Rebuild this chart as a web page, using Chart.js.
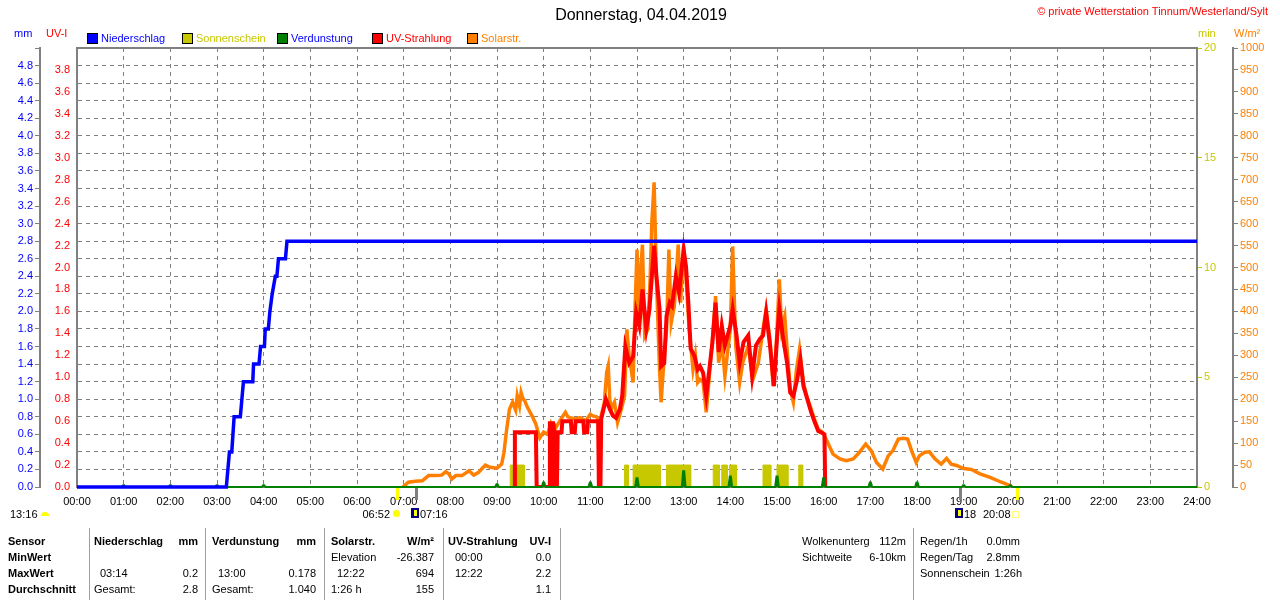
<!DOCTYPE html>
<html lang="de">
<head>
<meta charset="UTF-8">
<title>Wetterstation Tinnum - 04.04.2019</title>
<script src="https://cdn.jsdelivr.net/npm/chart.js"></script>
<style>
    body{
        margin: 0;
        width: 1280px;
        height: 600px;
        position: relative;
        overflow: hidden;
        background: #fff;
        font-family: "Liberation Sans", Arial, sans-serif;
        font-size: 11px;
        color: #000;
    }
    #grafik{
        position: absolute;
        left: 0;
        top: 0;
    }
    .t{
        position: absolute;
        white-space: nowrap;
        line-height: 13px;
    }
    .b{ font-weight: bold; }
    .r{ text-align: right; }
    .box{
        position: absolute;
        width: 9px;
        height: 9px;
        border: 1px solid #000;
        box-sizing: content-box;
    }
    .linie{
        position: absolute;
        top: 528px;
        width: 1px;
        height: 72px;
        background: #a0a0a0;
    }
</style>
</head>
<body>
    <canvas id="grafik" width="1280" height="600"></canvas>

    <div class="t" style="left:0;width:1282px;text-align:center;top:6px;font-size:16px;line-height:18px">Donnerstag, 04.04.2019</div>
    <div class="t" style="right:12px;top:5px;color:#ff0000">© private Wetterstation Tinnum/Westerland/Sylt</div>

    <div class="t" style="left:14px;top:27px;color:#0000ff">mm</div>
    <div class="t" style="left:46px;top:27px;color:#ff0000">UV-I</div>
    <div class="t" style="left:1198px;top:27px;color:#c8c800">min</div>
    <div class="t" style="left:1234px;top:27px;color:#ff8000">W/m²</div>

    <div class="box" style="left:87px;top:33px;background:#0000ff"></div>
    <div class="t" style="left:101px;top:32px;color:#0000ff">Niederschlag</div>
    <div class="box" style="left:182px;top:33px;background:#c8c800"></div>
    <div class="t" style="left:196px;top:32px;color:#c8c800">Sonnenschein</div>
    <div class="box" style="left:277px;top:33px;background:#008000"></div>
    <div class="t" style="left:291px;top:32px;color:#0000ff">Verdunstung</div>
    <div class="box" style="left:372px;top:33px;background:#ff0000"></div>
    <div class="t" style="left:386px;top:32px;color:#ff0000">UV-Strahlung</div>
    <div class="box" style="left:467px;top:33px;background:#ff8000"></div>
    <div class="t" style="left:481px;top:32px;color:#ff8000">Solarstr.</div>

    <!-- Sonne / Mond unter der Zeitachse -->
    <div class="t" style="left:10px;top:508px">13:16</div>
    <div style="position:absolute;left:41px;top:512px;width:8px;height:4px;background:#ffff00;border-radius:4px 4px 0 0"></div>
    <div class="t r" style="right:890px;top:508px">06:52</div>
    <div style="position:absolute;left:393px;top:510px;width:7px;height:7px;background:#ffff00;border-radius:50%"></div>
    <div style="position:absolute;left:411px;top:508px;width:8px;height:10px;background:#000080"></div>
    <div style="position:absolute;left:414px;top:510px;width:3px;height:6px;background:#ffff00"></div>
    <div class="t" style="left:420px;top:508px">07:16</div>
    <div style="position:absolute;left:955px;top:508px;width:8px;height:10px;background:#000080"></div>
    <div style="position:absolute;left:958px;top:510px;width:3px;height:6px;background:#ffff00"></div>
    <div class="t" style="left:964px;top:508px">18</div>
    <div class="t" style="left:983px;top:508px">20:08</div>
    <div style="position:absolute;left:1012px;top:511px;width:5px;height:5px;border:1px solid #ffff80"></div>

    <!-- Tabelle -->
    <div class="linie" style="left:89px"></div>
    <div class="linie" style="left:205px"></div>
    <div class="linie" style="left:324px"></div>
    <div class="linie" style="left:443px"></div>
    <div class="linie" style="left:560px"></div>
    <div class="linie" style="left:913px"></div>

    <div class="t b" style="left:8px;top:535px">Sensor</div>
    <div class="t b" style="left:8px;top:551px">MinWert</div>
    <div class="t b" style="left:8px;top:567px">MaxWert</div>
    <div class="t b" style="left:8px;top:583px">Durchschnitt</div>

    <div class="t b" style="left:94px;top:535px">Niederschlag</div>
    <div class="t b r" style="right:1082px;top:535px">mm</div>
    <div class="t" style="left:100px;top:567px">03:14</div>
    <div class="t r" style="right:1082px;top:567px">0.2</div>
    <div class="t" style="left:94px;top:583px">Gesamt:</div>
    <div class="t r" style="right:1082px;top:583px">2.8</div>

    <div class="t b" style="left:212px;top:535px">Verdunstung</div>
    <div class="t b r" style="right:964px;top:535px">mm</div>
    <div class="t" style="left:218px;top:567px">13:00</div>
    <div class="t r" style="right:964px;top:567px">0.178</div>
    <div class="t" style="left:212px;top:583px">Gesamt:</div>
    <div class="t r" style="right:964px;top:583px">1.040</div>

    <div class="t b" style="left:331px;top:535px">Solarstr.</div>
    <div class="t b r" style="right:846px;top:535px">W/m²</div>
    <div class="t" style="left:331px;top:551px">Elevation</div>
    <div class="t r" style="right:846px;top:551px">-26.387</div>
    <div class="t" style="left:337px;top:567px">12:22</div>
    <div class="t r" style="right:846px;top:567px">694</div>
    <div class="t" style="left:331px;top:583px">1:26 h</div>
    <div class="t r" style="right:846px;top:583px">155</div>

    <div class="t b" style="left:448px;top:535px">UV-Strahlung</div>
    <div class="t b r" style="right:729px;top:535px">UV-I</div>
    <div class="t" style="left:455px;top:551px">00:00</div>
    <div class="t r" style="right:729px;top:551px">0.0</div>
    <div class="t" style="left:455px;top:567px">12:22</div>
    <div class="t r" style="right:729px;top:567px">2.2</div>
    <div class="t r" style="right:729px;top:583px">1.1</div>

    <div class="t" style="left:802px;top:535px">Wolkenunterg</div>
    <div class="t r" style="right:374px;top:535px">112m</div>
    <div class="t" style="left:802px;top:551px">Sichtweite</div>
    <div class="t r" style="right:374px;top:551px">6-10km</div>

    <div class="t" style="left:920px;top:535px">Regen/1h</div>
    <div class="t r" style="right:260px;top:535px">0.0mm</div>
    <div class="t" style="left:920px;top:551px">Regen/Tag</div>
    <div class="t r" style="right:260px;top:551px">2.8mm</div>
    <div class="t" style="left:920px;top:567px">Sonnenschein</div>
    <div class="t r" style="right:258px;top:567px">1:26h</div>

<script>
    // Niederschlag (Summe, mm)
    var regenZeit = ['00:00','03:12','03:14','03:16','03:19','03:22','03:30','03:32','03:34','03:46','03:47','03:54',
                     '03:56','04:01','04:02','04:06','04:08','04:11','04:15','04:17','04:19','04:28','04:30','24:00'];
    var regenWert = [0,0,0.2,0.4,0.4,0.8,0.8,1.0,1.2,1.2,1.4,1.4,
                     1.6,1.6,1.8,1.8,2.0,2.2,2.4,2.4,2.6,2.6,2.8,2.8];

    // Sonnenschein (min)
    var sonneVon  = ['09:17','11:44','11:55','12:38','13:38','13:49','13:59','14:42','15:00','15:28'];
    var sonneBis  = ['09:35','11:49','12:30','13:09','13:46','13:56','14:08','14:52','15:14','15:33'];
    var sonneWert = [1,1,1,1,1,1,1,1,1,1];

    // Verdunstung pro Stunde (mm)
    var verdStunde = [1,2,3,4,9,10,11,12,13,14,15,16,17,18,19,20];
    var verdWert   = [0.02,0.02,0.02,0.02,0.03,0.05,0.05,0.10,0.178,0.12,0.12,0.10,0.05,0.05,0.02,0.02];

    // UV-Strahlung (UV-I)
    var uvZeit = ['09:22','09:23','09:50','09:51','10:07','10:08','10:12','10:13','10:17','10:18','10:23','10:24',
                  '10:35','10:36','10:40','10:41','10:51','10:52','10:56','10:57','11:10','11:11','11:13','11:14',
                  '11:20','11:25','11:29','11:33','11:38','11:41','11:45','11:50','11:55','11:59','12:03','12:07',
                  '12:12','12:16','12:22','12:25','12:29','12:31','12:35','12:38','12:42','12:45','12:50','12:54',
                  '13:00','13:03','13:06','13:09','13:14','13:18','13:21','13:25','13:29','13:33','13:37','13:41',
                  '13:45','13:49','13:53','14:00','14:03','14:08','14:12','14:17','14:23','14:28','14:33','14:38',
                  '14:42','14:46','14:51','14:56','15:00','15:03','15:08','15:13','15:17','15:21','15:26','15:30',
                  '15:34','15:39','15:44','15:48','15:53','15:56','16:01','16:02'];
    var uvWert = [0,0.50,0.50,0,0,0.58,0.58,0,0,0.50,0.50,0.60,
                  0.60,0.50,0.50,0.60,0.60,0.50,0.50,0.60,0.60,0,0,0.62,
                  0.80,0.71,0.65,0.63,0.71,0.83,1.28,1.13,1.19,1.59,1.47,1.80,
                  1.44,1.62,2.20,1.92,1.62,1.10,1.13,1.56,1.68,1.65,1.92,1.77,
                  2.16,2.01,1.68,1.26,1.19,1.07,1.10,1.04,0.83,1.07,1.32,1.68,
                  1.23,1.47,1.29,1.47,1.62,1.38,1.13,1.32,1.38,1.01,1.29,1.35,
                  1.38,1.59,1.29,0.92,1.35,1.62,1.35,1.13,0.86,0.83,0.98,1.16,
                  0.92,0.80,0.68,0.60,0.51,0.50,0.48,0];

    // Solarstrahlung (W/m²)
    var solarZeit = ['06:59','07:06','07:15','07:24','07:32','07:41','07:49','07:54','07:58','08:02','08:07','08:15',
                     '08:24','08:30','08:36','08:45','08:51','09:00','09:06','09:09','09:12','09:16','09:20','09:24',
                     '09:26','09:29','09:31','09:33','09:36','09:39','09:45','09:50','09:55','10:00','10:05','10:09',
                     '10:12','10:15','10:21','10:26','10:28','10:31','10:34','10:41','10:47','10:54','11:00','11:03',
                     '11:08','11:12','11:15','11:18','11:21','11:23','11:25','11:27','11:31','11:35','11:40','11:44',
                     '11:47','11:50','11:55','11:57','12:00','12:03','12:05','12:07','12:10','12:14','12:17','12:19',
                     '12:22','12:25','12:29','12:31','12:35','12:38','12:41','12:44','12:48','12:53','12:56','13:00',
                     '13:04','13:07','13:12','13:15','13:18','13:21','13:25','13:29','13:33','13:37','13:41','13:45',
                     '13:49','13:53','13:56','14:00','14:03','14:07','14:12','14:16','14:23','14:29','14:36','14:42',
                     '14:46','14:51','14:55','14:59','15:03','15:06','15:10','15:13','15:17','15:21','15:25','15:29',
                     '15:34','15:38','15:44','15:48','15:53','15:59','16:05','16:12','16:21','16:29','16:38','16:46',
                     '16:54','17:01','17:08','17:16','17:23','17:29','17:36','17:42','17:48','17:53','17:59','18:03',
                     '18:10','18:16','18:23','18:31','18:38','18:44','18:51','19:00','19:10','19:21','19:34','19:47',
                     '20:00','20:02'];
    var solarWert = [0,11,13,14,26,26,27,35,30,18,26,26,
                     37,27,33,50,45,43,52,79,125,177,193,175,
                     208,185,215,203,195,182,162,143,112,125,120,143,
                     125,133,151,165,170,160,158,155,158,151,166,162,
                     160,147,170,193,261,276,200,178,193,147,178,208,
                     359,298,238,378,541,382,500,552,344,359,480,600,
                     694,473,268,193,298,359,541,374,412,552,420,548,
                     450,359,268,300,238,245,238,170,252,336,435,283,
                     330,252,300,359,548,321,238,283,321,245,283,359,
                     405,336,230,321,473,359,389,314,223,193,268,314,
                     238,208,177,155,132,124,102,75,64,60,64,79,
                     98,83,56,41,71,83,109,111,109,83,56,71,
                     79,80,64,52,65,52,49,42,40,30,22,12,
                     3,0];

    // Sonnenauf-/untergang, Mondauf-/untergang
    var astroZeit  = ['06:52','07:16','18:55','20:08'];
    var astroFarbe = ['#ffff00','#808080','#808080','#ffff00'];

    function stunden(s){
        var p = s.split(':');
        return Number(p[0]) + Number(p[1]) / 60;
    }
    function punkte(zeiten, werte){
        return zeiten.map(function(z, i){ return {x: stunden(z), y: werte[i]}; });
    }

    var sonnePunkte = [{x: 0, y: 0}];
    for(var i = 0; i < sonneVon.length; i++){
        var a = stunden(sonneVon[i]), b = stunden(sonneBis[i]);
        sonnePunkte.push({x: a, y: 0}, {x: a, y: sonneWert[i]}, {x: b, y: sonneWert[i]}, {x: b, y: 0});
    }
    sonnePunkte.push({x: 24, y: 0});

    var verdPunkte = [{x: 0, y: 0}];
    for(var i = 0; i < verdStunde.length; i++){
        var s = verdStunde[i];
        verdPunkte.push({x: s - 0.04, y: 0}, {x: s - 0.012, y: verdWert[i]}, {x: s + 0.012, y: verdWert[i]}, {x: s + 0.04, y: 0});
    }
    verdPunkte.push({x: 24, y: 0});

    // Rahmen um die Zeichenfläche und Markierungen unter der Zeitachse
    var rahmen = {
        id: 'rahmen',
        beforeDatasetsDraw: function(chart){
            var ctx = chart.ctx, a = chart.chartArea;
            ctx.save();
            ctx.strokeStyle = '#808080';
            ctx.lineWidth = 2;
            ctx.strokeRect(a.left, a.top, a.right - a.left, a.bottom - a.top);
            ctx.restore();
        },
        afterDraw: function(chart){
            var ctx = chart.ctx, x = chart.scales.x, y0 = chart.chartArea.bottom;
            ctx.save();
            for(var i = 0; i < astroZeit.length; i++){
                var px = x.getPixelForValue(stunden(astroZeit[i]));
                ctx.fillStyle = astroFarbe[i];
                ctx.fillRect(Math.round(px) - 1, y0 + 1, 3, 12);
            }
            ctx.restore();
        }
    };

    var schrift = {family: '"Liberation Sans", Arial, sans-serif', size: 11};

    new Chart(document.getElementById('grafik'), {
        type: 'line',
        data: {
            datasets: [{
                label: 'Niederschlag',
                data: punkte(regenZeit, regenWert),
                yAxisID: 'yMM',
                borderColor: '#0000ff',
                borderWidth: 3.5,
                clip: 3,
                order: 0
            },
            {
                label: 'Verdunstung',
                data: verdPunkte,
                yAxisID: 'yMM',
                borderColor: '#008000',
                backgroundColor: '#008000',
                borderWidth: 2,
                fill: 'origin',
                clip: 3,
                order: 1
            },
            {
                label: 'UV-Strahlung',
                data: punkte(uvZeit, uvWert),
                yAxisID: 'yUV',
                borderColor: '#ff0000',
                borderWidth: 4,
                order: 2
            },
            {
                label: 'Solarstr.',
                data: punkte(solarZeit, solarWert),
                yAxisID: 'yW',
                borderColor: '#ff8000',
                borderWidth: 3.5,
                order: 3
            },
            {
                label: 'Sonnenschein',
                data: sonnePunkte,
                yAxisID: 'yMin',
                borderColor: '#c8c800',
                backgroundColor: '#c8c800',
                borderWidth: 1,
                fill: 'origin',
                order: 4
            }]
        },
        options: {
            responsive: false,
            animation: false,
            layout: {padding: {top: 48, bottom: 83, left: 0, right: 0}},
            elements: {point: {radius: 0, hoverRadius: 0}, line: {tension: 0}},
            plugins: {
                legend: {display: false},
                title: {display: false},
                tooltip: {enabled: false}
            },
            scales: {
                x: {
                    type: 'linear', min: 0, max: 24,
                    ticks: {stepSize: 1, autoSkip: false, maxRotation: 0, color: '#000', font: schrift, padding: 8,
                            callback: function(v){ return String(v).padStart(2, '0') + ':00'; }},
                    grid: {color: '#808080', drawTicks: false},
                    border: {display: false, dash: [4, 4]},
                    afterFit: function(s){ s.height = 30; }
                },
                yMM: {
                    position: 'left', weight: 2, min: 0, max: 5,
                    ticks: {stepSize: 0.2, autoSkip: false, color: '#0000ff', font: schrift, padding: 2,
                            callback: function(v){ return v > 4.99 ? '' : v.toFixed(1); }},
                    grid: {color: '#808080', tickLength: 5, tickColor: '#808080'},
                    border: {color: '#808080', width: 2, dash: [4, 4]},
                    afterFit: function(s){ s.width = 40; }
                },
                yUV: {
                    position: 'left', weight: 1, min: 0, max: 4,
                    ticks: {stepSize: 0.2, autoSkip: false, color: '#ff0000', font: schrift, padding: 7,
                            callback: function(v){ return v > 3.99 ? '' : v.toFixed(1); }},
                    grid: {drawOnChartArea: false, drawTicks: false},
                    border: {display: false},
                    afterFit: function(s){ s.width = 37; }
                },
                yMin: {
                    position: 'right', weight: 1, min: 0, max: 20,
                    ticks: {stepSize: 5, color: '#c8c800', font: schrift, padding: 2,
                            callback: function(v){ return String(v); }},
                    grid: {drawOnChartArea: false, tickLength: 5, tickColor: '#c8c800'},
                    border: {display: false},
                    afterFit: function(s){ s.width = 36; }
                },
                yW: {
                    position: 'right', weight: 2, min: 0, max: 1000,
                    ticks: {stepSize: 50, autoSkip: false, color: '#ff8000', font: schrift, padding: 2,
                            callback: function(v){ return String(v); }},
                    grid: {drawOnChartArea: false, tickLength: 5, tickColor: '#808080'},
                    border: {color: '#808080', width: 2},
                    afterFit: function(s){ s.width = 47; }
                }
            }
        },
        plugins: [rahmen]
    });
</script>
</body>
</html>
